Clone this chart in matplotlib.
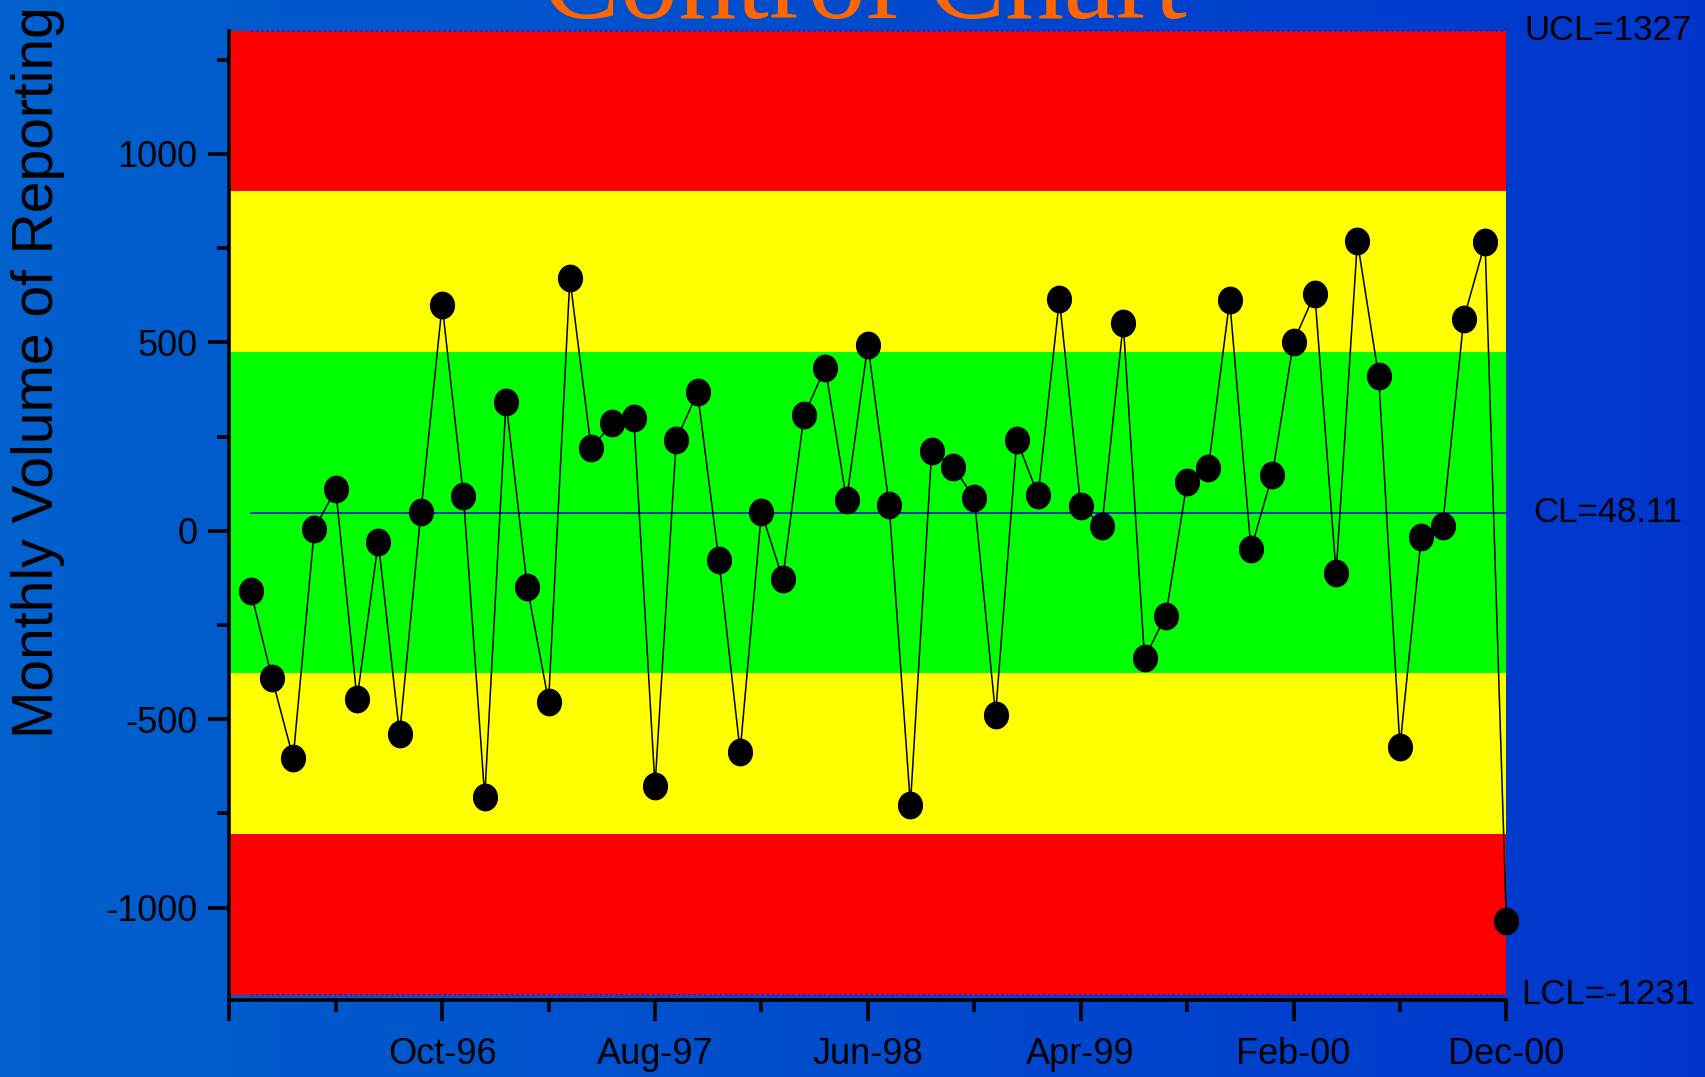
import numpy as np
import matplotlib
matplotlib.use("Agg")
import matplotlib.pyplot as plt
from matplotlib.path import Path
import matplotlib.transforms as mtransforms

plt.rcParams['font.family'] = ['Liberation Sans', 'DejaVu Sans']
plt.rcParams['axes.unicode_minus'] = False

# monthly values, Jan-96 .. Dec-00
values = [-159, -390, -603, 6, 110, -447, -29, -540, 49, 600,
          92, -707, 343, -150, -453, 670, 219, 286, 300, -678,
          242, 367, -78, -586, 49, -127, 306, 433, 81, 494,
          69, -727, 211, 170, 87, -488, 240, 95, 615, 66,
          14, 551, -338, -225, 130, 167, 612, -49, 147, 502,
          629, -113, 768, 410, -574, -17, 12, 563, 765, -1036]
months = np.arange(1, len(values) + 1)

cl = 48.11
ucl = 1327
lcl = -1231
sigma = (ucl - cl) / 3.0

tick_pos = [0, 10, 20, 30, 40, 50, 60]
tick_labels = ['', 'Oct-96', 'Aug-97', 'Jun-98', 'Apr-99', 'Feb-00', 'Dec-00']

fig = plt.figure(figsize=(17.05, 10.77), dpi=100)

# gradient background
bg = fig.add_axes([0, 0, 1, 1], zorder=-10)
c_left = np.array([0.0, 0.38, 0.80])
c_right = np.array([0.0, 0.21, 0.80])
t = np.linspace(0, 1, 256)
grad = (c_left[None, :] * (1 - t[:, None]) + c_right[None, :] * t[:, None])[None, :, :]
bg.imshow(grad, aspect='auto', extent=[0, 1, 0, 1])
bg.axis('off')

ax = fig.add_axes([0.1345, 0.0715, 0.749, 0.9])
ax.set_facecolor('none')
ax.set_xlim(0, 60)
ax.set_ylim(-1245, ucl)

# zones
ax.axhspan(cl + 2 * sigma, ucl, color='#ff0000', lw=0, zorder=0)
ax.axhspan(cl + sigma, cl + 2 * sigma, color='#ffff00', lw=0, zorder=0)
ax.axhspan(cl - sigma, cl + sigma, color='#00ff00', lw=0, zorder=0)
ax.axhspan(cl - 2 * sigma, cl - sigma, color='#ffff00', lw=0, zorder=0)
ax.axhspan(lcl, cl - 2 * sigma, color='#ff0000', lw=0, zorder=0)

# control lines
ax.plot([months[0], months[-1]], [cl, cl], color='#1010d0', lw=1.2, zorder=2)
ax.plot([months[0], months[-1]], [ucl, ucl], color='#2020e0', lw=1.5, ls=(0, (1, 1.5)), zorder=2, clip_on=False)
ax.plot([months[0], months[-1]], [lcl, lcl], color='#2020e0', lw=1.5, ls=(0, (1, 1.5)), zorder=2, clip_on=False)

# elliptical marker
th = np.linspace(0, 2 * np.pi, 60)
ell = Path(np.column_stack([0.9 * np.cos(th), np.sin(th)]), closed=True)
ax.plot(months, values, color='black', lw=1.1, marker=ell, ms=19,
        mfc='black', mec='black', zorder=3, clip_on=False)

# axes styling
for s in ['top', 'right']:
    ax.spines[s].set_visible(False)
for s in ['left', 'bottom']:
    ax.spines[s].set_linewidth(2.6)
    ax.spines[s].set_color('black')

ax.set_yticks([-1000, -500, 0, 500, 1000])
ax.set_yticks([-750, -250, 250, 750, 1250], minor=True)
ax.set_xticks(tick_pos)
ax.set_xticklabels(tick_labels)
ax.set_xticks([5, 15, 25, 35, 45, 55], minor=True)
ax.tick_params(which='major', length=15, width=2.6, labelsize=26, color='black')
ax.tick_params(which='minor', length=8.5, width=2.6, color='black')
ax.tick_params(axis='y', which='major', pad=8)
ax.tick_params(axis='x', which='major', pad=12)

# labels
fig.text(0.507, 0.983, 'Control Chart', family='Liberation Serif', fontsize=84,
         color='#ff6600', ha='center', va='baseline')
fig.text(0.022, 0.655, 'Monthly Volume of Reporting', rotation=90, fontsize=41,
         ha='center', va='center', color='black')

tr = mtransforms.blended_transform_factory(fig.transFigure, ax.transData)
ax.text(0.943, ucl, 'UCL=%d' % ucl, transform=tr, ha='center', va='center', fontsize=25, clip_on=False)
ax.text(0.943, cl, 'CL=%.2f' % cl, transform=tr, ha='center', va='center', fontsize=25, clip_on=False)
ax.text(0.943, lcl, 'LCL=%d' % lcl, transform=tr, ha='center', va='center', fontsize=25, clip_on=False)

fig.savefig('out.png', dpi=100)
